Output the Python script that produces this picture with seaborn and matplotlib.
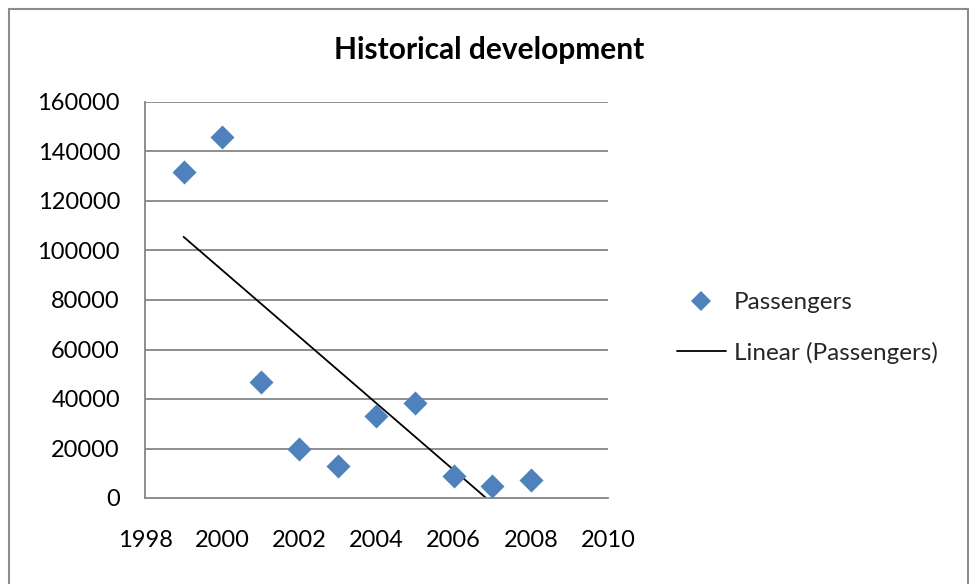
import numpy as np
import pandas as pd
import matplotlib
matplotlib.use("Agg")
import matplotlib.pyplot as plt
from matplotlib.patches import Rectangle
from matplotlib.lines import Line2D
import seaborn as sns

# Passenger counts per year
years = [1999, 2000, 2001, 2002, 2003, 2004, 2005, 2006, 2007, 2008]
passengers = [131700, 145800, 46900, 19800, 12900, 33100, 38400, 8900, 4800, 7300]

x_ticks = [1998, 2000, 2002, 2004, 2006, 2008, 2010]
y_ticks = [0, 20000, 40000, 60000, 80000, 100000, 120000, 140000, 160000]

df = pd.DataFrame({"Year": years, "Passengers": passengers})

# Least-squares trend line over the data range
slope, intercept = np.polyfit(df["Year"], df["Passengers"], 1)
trend = pd.DataFrame({"Year": [years[0], years[-1]]})
trend["Fit"] = slope * trend["Year"] + intercept

sns.set_theme(style="white")
plt.rcParams["font.family"] = ["Lato", "DejaVu Sans"]

W, H = 970, 584
fig = plt.figure(figsize=(W / 100, H / 100), dpi=100)
ax = fig.add_axes([145 / W, 1 - 498 / H, (608 - 145) / W, (498 - 102) / H])

grid_c = "#868686"
blue = "#4F81BD"

for v in y_ticks[1:]:
    ax.axhline(v, color=grid_c, lw=1.3, zorder=1)

sns.lineplot(data=trend, x="Year", y="Fit", ax=ax, color="black", lw=1.3,
             zorder=2, legend=False)
sns.scatterplot(data=df, x="Year", y="Passengers", ax=ax, marker="D", s=150,
                color=blue, edgecolor=blue, linewidth=0, zorder=3, legend=False)

ax.set_xlim(1998, 2010)
ax.set_ylim(0, 160000)
ax.set_xticks(x_ticks)
ax.set_yticks(y_ticks)
ax.set_xticklabels([str(t) for t in x_ticks])
ax.set_yticklabels([str(t) for t in y_ticks])
ax.set_xlabel("")
ax.set_ylabel("")
for s in ["top", "right"]:
    ax.spines[s].set_visible(False)
for s in ["left", "bottom"]:
    ax.spines[s].set_color(grid_c)
    ax.spines[s].set_linewidth(1.3)
ax.tick_params(axis="both", which="major", direction="out", length=6,
               width=1.3, color=grid_c, labelsize=17, labelcolor="black")
ax.tick_params(axis="x", pad=17)
ax.tick_params(axis="y", pad=12)
ax.grid(False)

fig.text(489 / W, 1 - 50 / H, "Historical development", ha="center",
         va="center", fontsize=21.5, fontweight="bold", color="black")

handles = [
    Line2D([], [], marker="D", color=blue, ls="none", markersize=10,
           markeredgewidth=0),
    Line2D([], [], color="black", lw=1.3),
]
fig.legend(handles, ["Passengers", "Linear (Passengers)"],
           loc="center left", bbox_to_anchor=(677 / W, 1 - 328 / H),
           frameon=False, fontsize=17.5, handlelength=2.0, handletextpad=0.35,
           labelspacing=1.15, borderaxespad=0, borderpad=0)

fig.patches.append(Rectangle((9 / W, -0.05), (968 - 9) / W, 1.05 - 9 / H,
                             transform=fig.transFigure, fill=False,
                             edgecolor="#8c8c8c", lw=1.5))

fig.savefig("out.png", dpi=100, facecolor="white")
